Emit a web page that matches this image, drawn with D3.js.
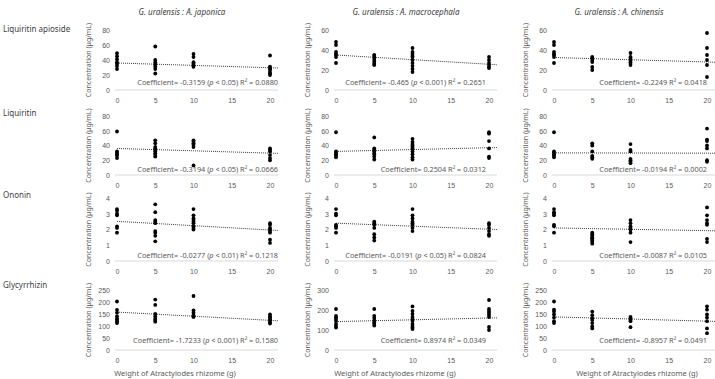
<!DOCTYPE html>
<html>
<head>
<meta charset="utf-8">
<script src="https://cdn.jsdelivr.net/npm/d3@7.9.0/dist/d3.min.js"></script>
<style>
  body { margin: 0; background: #fff; }
  svg { display: block; font-family: 'Noto Sans', 'Open Sans', sans-serif; }
  .tick text { fill: #595959; }
</style>
</head>
<body>
<svg id="chart" width="715" height="379"></svg>
<script>
// chart values
const doses = [0, 5, 10, 20];
const xTicks = [0, 5, 10, 15, 20];
const compounds = ['Liquiritin apioside', 'Liquiritin', 'Ononin', 'Glycyrrhizin'];
const pairs = ['G. uralensis : A. japonica', 'G. uralensis : A. macrocephala', 'G. uralensis : A. chinensis'];
const xTitle = 'Weight of Atractylodes rhizome (g)';
const yTitle = 'Concentration (\u03bcg/mL)';

// points per dose group (0, 5, 10, 20 g)
const apiosideJaponica = [[49, 45, 41, 37, 35, 32, 28], [58, 40, 37, 34, 31, 28, 22], [48, 44, 37, 35, 33, 31], [46, 31, 29, 27, 24, 22, 20]];
const apiosideMacro = [[48, 45, 38, 36, 35, 33, 27], [35, 34, 32, 30, 28, 26, 25], [42, 38, 36, 34, 33, 30, 27, 24, 21, 18], [33, 30, 27, 25, 23, 22]];
const apiosideChin = [[48, 45, 38, 36, 35, 33, 27], [33, 32, 30, 28, 23, 20], [37, 33, 32, 30, 28, 27, 25], [57, 42, 35, 30, 25, 13]];
const liquiritinJaponica = [[59, 32, 30, 28, 26, 23], [47, 43, 38, 36, 34, 32, 29, 27, 25], [47, 45, 43, 41, 38, 13], [36, 34, 32, 27, 23, 20]];
const liquiritinMacro = [[58, 32, 30, 28, 26, 24], [51, 36, 34, 32, 30, 28, 25, 21], [49, 45, 42, 40, 38, 36, 32, 28, 24, 21], [58, 56, 46, 36, 25, 23]];
const liquiritinChin = [[58, 32, 30, 28, 26, 24], [43, 40, 32, 26, 24, 22], [42, 34, 32, 22, 20, 18, 16], [63, 48, 46, 40, 36, 20, 18]];
const ononinJaponica = [[3.3, 3.2, 3.0, 2.9, 2.2, 2.1, 1.8], [3.6, 3.1, 2.6, 2.5, 2.4, 1.9, 1.8, 1.6, 1.25], [3.3, 2.9, 2.7, 2.6, 2.5, 2.4, 2.2, 2.1, 2.0], [2.4, 2.3, 2.1, 2.0, 1.9, 1.8, 1.35, 1.15]];
const ononinMacro = [[3.3, 3.0, 2.9, 2.3, 2.2, 2.1, 1.8], [2.5, 2.4, 2.3, 2.1, 1.7, 1.5, 1.3], [3.3, 2.9, 2.7, 2.5, 2.4, 2.3, 2.1, 1.9], [2.4, 2.3, 2.1, 1.9, 1.7, 1.6]];
const ononinChin = [[3.3, 3.1, 3.0, 2.9, 2.3, 2.2, 1.8], [1.8, 1.7, 1.6, 1.5, 1.45, 1.4, 1.3, 1.2, 1.1], [2.6, 2.4, 2.2, 2.1, 2.0, 1.8, 1.2], [3.4, 2.9, 2.6, 2.4, 2.3, 1.4, 1.2]];
const glycyJaponica = [[202, 167, 155, 140, 130, 125, 118, 112], [210, 188, 150, 140, 130, 125, 118], [225, 165, 155, 145, 140, 138], [148, 140, 135, 128, 122, 115, 110]];
const glycyMacro = [[205, 170, 162, 155, 145, 130, 120, 112], [205, 170, 160, 148, 138, 130, 122], [218, 195, 180, 165, 155, 145, 130, 120, 112, 105], [250, 205, 195, 185, 175, 165, 115, 100]];
const glycyChin = [[202, 168, 160, 148, 135, 120, 112], [160, 145, 132, 125, 112, 98, 90], [138, 132, 125, 120, 95], [182, 168, 148, 135, 120, 90, 70]];

const panelData = [
  [apiosideJaponica, apiosideMacro, apiosideChin],
  [liquiritinJaponica, liquiritinMacro, liquiritinChin],
  [ononinJaponica, ononinMacro, ononinChin],
  [glycyJaponica, glycyMacro, glycyChin]
];

// regression results
const slopes = [[-0.3159, -0.465, -0.2249], [-0.3194, 0.2504, -0.0194], [-0.0277, -0.0191, -0.0087], [-1.7233, 0.8974, -0.8957]];
const intercepts = [[36, 35, 32.5], [36, 32, 30], [2.52, 2.4, 2.1], [158, 142, 138]];
const pLabels = [['< 0.05', '< 0.001', null], ['< 0.05', null, null], ['< 0.01', '< 0.05', null], ['< 0.001', null, null]];
const r2Labels = [['0.0880', '0.2651', '0.0418'], ['0.0666', '0.0312', '0.0002'], ['0.1218', '0.0824', '0.0105'], ['0.1580', '0.0349', '0.0491']];
const yMaxes = [[80, 60, 60], [80, 80, 80], [4, 4, 4], [250, 300, 250]];
const ySteps = [[20, 20, 20], [20, 20, 20], [1, 1, 1], [50, 100, 50]];

// layout
const colX0 = [117, 336, 554];
const plotW = 153;
const rowY0 = [90, 175, 261, 350];
const rowH = [60, 59, 63, 60];
const rowLabelY = [32, 116, 198, 288];
const coefDy = [-5, -3, -3, -7];
const coefDx = [8, -3, 0];
const titleX = [182, 406, 619];
const xTitleX = [175, 395, 637];

const svg = d3.select('#chart');
const grey = '#595959';

pairs.forEach((p, c) => {
  svg.append('text')
    .attr('x', titleX[c]).attr('y', 15)
    .attr('text-anchor', 'middle')
    .attr('font-size', 8)
    .attr('font-style', 'italic')
    .attr('fill', '#404040')
    .text(p);
});

compounds.forEach((name, r) => {
  svg.append('text')
    .attr('x', 3).attr('y', rowLabelY[r])
    .attr('font-size', 8)
    .attr('fill', '#404040')
    .text(name);

  pairs.forEach((p, c) => {
    const x = d3.scaleLinear().domain([0, 20]).range([colX0[c], colX0[c] + plotW]);
    const y = d3.scaleLinear().domain([0, yMaxes[r][c]]).range([rowY0[r], rowY0[r] - rowH[r]]);
    const g = svg.append('g');

    // baseline
    g.append('line')
      .attr('x1', x(0) - 2).attr('x2', x(20) + 8)
      .attr('y1', y(0)).attr('y2', y(0))
      .attr('stroke', '#d9d9d9').attr('stroke-width', 1);

    const yAxis = d3.axisLeft(y)
      .tickValues(d3.range(0, yMaxes[r][c] + ySteps[r][c] / 2, ySteps[r][c]))
      .tickFormat(d3.format('~g'))
      .tickSize(0).tickPadding(7);
    g.append('g').attr('transform', `translate(${x(0)},0)`).call(yAxis)
      .call(a => a.select('.domain').remove())
      .selectAll('text').attr('font-size', 7).attr('font-family', null);

    const xAxis = d3.axisBottom(x).tickValues(xTicks).tickSize(0).tickPadding(8);
    g.append('g').attr('transform', `translate(0,${y(0)})`).call(xAxis)
      .call(a => a.select('.domain').remove())
      .selectAll('text').attr('font-size', 7).attr('font-family', null);

    // y title
    g.append('text')
      .attr('transform', `translate(${x(0) - 26},${rowY0[r] - rowH[r] / 2}) rotate(-90)`)
      .attr('text-anchor', 'middle')
      .attr('font-size', 7)
      .attr('fill', grey)
      .text(yTitle);

    // trend line
    const b = intercepts[r][c], m = slopes[r][c];
    g.append('line')
      .attr('x1', x(0)).attr('y1', y(b))
      .attr('x2', x(20) + 8).attr('y2', y(b + m * 21))
      .attr('stroke', '#404040').attr('stroke-width', 1)
      .attr('stroke-dasharray', '1,1');

    // points
    panelData[r][c].forEach((vals, i) => {
      g.selectAll(null).data(vals).enter().append('circle')
        .attr('cx', x(doses[i])).attr('cy', d => y(d))
        .attr('r', 1.9).attr('fill', '#000');
    });

    // coefficient text
    const t = g.append('text')
      .attr('x', x(20) + coefDx[c]).attr('y', y(0) + coefDy[r])
      .attr('text-anchor', 'end')
      .attr('font-size', 7.3)
      .attr('fill', grey);
    t.append('tspan').text(`Coefficient= ${m} `);
    if (pLabels[r][c]) {
      t.append('tspan').text('(');
      t.append('tspan').attr('font-style', 'italic').text('p');
      t.append('tspan').text(` ${pLabels[r][c]}) `);
    }
    t.append('tspan').text(`R\u00b2 = ${r2Labels[r][c]}`);

    if (r === compounds.length - 1) {
      svg.append('text')
        .attr('x', xTitleX[c]).attr('y', 376)
        .attr('text-anchor', 'middle')
        .attr('font-size', 7.5)
        .attr('fill', grey)
        .text(xTitle);
    }
  });
});
</script>
</body>
</html>
